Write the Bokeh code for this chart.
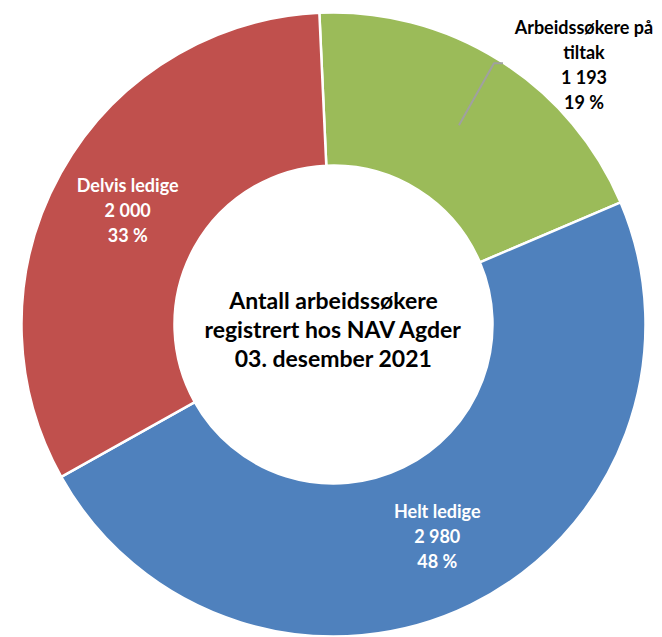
import math
from bokeh.plotting import figure
from bokeh.models import Range1d
from bokeh.core.properties import value
from bokeh.embed import file_html
from bokeh.resources import INLINE

# ---- data ----
categories = ["Arbeidssøkere på tiltak", "Helt ledige", "Delvis ledige"]
label_lines = [["Arbeidssøkere på", "tiltak"], ["Helt ledige"], ["Delvis ledige"]]
counts = [1193, 2980, 2000]
percent_labels = [19, 48, 33]
colors = ["#9BBB59", "#4F81BD", "#C0504D"]
label_colors = ["#000000", "#FFFFFF", "#FFFFFF"]
center_title = ["Antall arbeidssøkere", "registrert hos NAV Agder", "03. desember 2021"]

# ---- layout ----
W, H = 662, 637
CX, CY = 333, H - 324
R_OUT, R_IN = 312, 159
START_DEG = 92.6  # first slice starts just left of 12 o'clock, runs clockwise
FONT = "Lato"

p = figure(width=W, height=H, x_range=Range1d(0, W), y_range=Range1d(0, H),
           output_backend="svg", toolbar_location=None, min_border=0)
p.axis.visible = False
p.grid.visible = False
p.outline_line_color = None
p.background_fill_color = "white"
p.border_fill_color = "white"

total = sum(counts)
starts, ends, mids = [], [], []
a = math.radians(START_DEG)
for c in counts:
    sweep = 2 * math.pi * c / total
    starts.append(a - sweep)
    ends.append(a)
    mids.append(a - sweep / 2)
    a -= sweep

p.annular_wedge(x=[CX] * len(counts), y=[CY] * len(counts),
                inner_radius=R_IN, outer_radius=R_OUT,
                start_angle=starts, end_angle=ends, direction="anticlock",
                fill_color=colors, line_color="white", line_width=2.5)


def fmt(n):
    return f"{n:,}".replace(",", " ")


R_MID = (R_IN + R_OUT) / 2
LINE = 25
for i, cat in enumerate(categories):
    mx = CX + R_MID * math.cos(mids[i])
    my = CY + R_MID * math.sin(mids[i])
    lines = label_lines[i] + [fmt(counts[i]), f"{percent_labels[i]} %"]
    if i == 0:
        # label moved outside with a leader line
        ex, ey = mx + 35, my + 62
        p.line(x=[mx, ex, ex + 9], y=[my, ey, ey], line_color="#A0A0A0", line_width=2)
        lx = mx + 125
        ly0 = my + 98
    else:
        lx = mx
        ly0 = my + LINE * (len(lines) - 1) / 2
    p.text(x=[lx] * len(lines), y=[ly0 - LINE * k for k in range(len(lines))], text=lines,
           text_align="center", text_baseline="middle", text_font=value(FONT),
           text_font_style="bold", text_font_size="18px", text_color=label_colors[i])

p.text(x=[CX] * 3, y=[CY + 25 - 29 * k for k in range(3)], text=center_title,
       text_align="center", text_baseline="middle", text_font=value(FONT),
       text_font_style="bold", text_font_size="23px", text_color="#000000")

open("out.html", "w").write(file_html(p, INLINE))
